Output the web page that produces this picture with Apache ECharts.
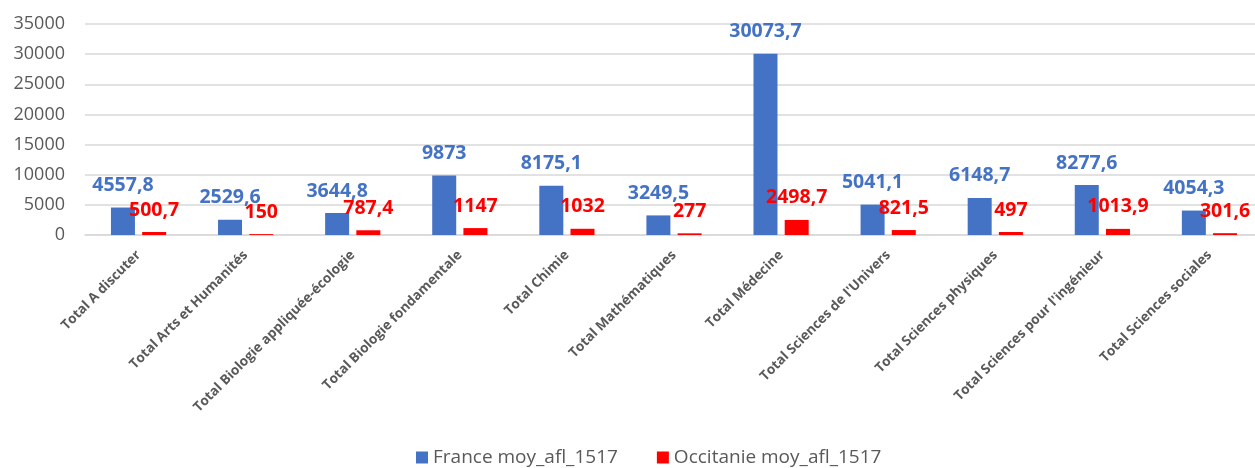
<!DOCTYPE html>
<html>
<head>
<meta charset="utf-8">
<script src="https://cdn.jsdelivr.net/npm/echarts@6/dist/echarts.min.js"></script>
<style>
  html, body { margin: 0; padding: 0; background: #fff; }
  #chart { width: 1255px; height: 468px; }
</style>
</head>
<body>
<div id="chart"></div>
<script>
const categories = [
  'Total A discuter',
  'Total Arts et Humanités',
  'Total Biologie appliquée-écologie',
  'Total Biologie fondamentale',
  'Total Chimie',
  'Total Mathématiques',
  'Total Médecine',
  "Total Sciences de l'Univers",
  'Total Sciences physiques',
  "Total Sciences pour l'ingénieur",
  'Total Sciences sociales'
];
const franceValues = [4557.8, 2529.6, 3644.8, 9873, 8175.1, 3249.5, 30073.7, 5041.1, 6148.7, 8277.6, 4054.3];
const occitanieValues = [500.7, 150, 787.4, 1147, 1032, 277, 2498.7, 821.5, 497, 1013.9, 301.6];
const seriesNames = ['France moy_afl_1517', 'Occitanie moy_afl_1517'];

const BLUE = '#4472C4';
const RED = '#FF0000';
const GREY = '#595959';
const FONT = 'Open Sans';

// french decimal comma
const frNum = (p) => String(p.value).replace('.', ',');

const barLabel = (color) => ({
  show: true,
  position: 'top',
  distance: 12,
  color: color,
  fontFamily: FONT,
  fontWeight: 'bold',
  fontSize: 19.5,
  formatter: frNum
});

const chart = echarts.init(document.getElementById('chart'), null, { renderer: 'canvas' });

chart.setOption({
  animation: false,
  grid: { left: 85, top: 24, right: -8, height: 211, outerBoundsMode: 'none', containLabel: false },
  legend: {
    bottom: -4,
    left: 411,
    itemWidth: 12,
    itemHeight: 12,
    itemGap: 39,
    icon: 'rect',
    textStyle: { color: GREY, fontFamily: FONT, fontSize: 19 },
    data: seriesNames
  },
  xAxis: {
    type: 'category',
    data: categories,
    axisLine: { lineStyle: { color: '#d9d9d9', width: 1.5 } },
    axisTick: { show: false },
    axisLabel: {
      interval: 0,
      rotate: 45,
      margin: 18,
      color: GREY,
      fontFamily: FONT,
      fontWeight: 'bold',
      fontSize: 13.5
    }
  },
  yAxis: {
    type: 'value',
    min: 0,
    max: 35000,
    interval: 5000,
    axisLine: { show: false },
    axisTick: { show: false },
    axisLabel: { margin: 20, color: GREY, fontFamily: FONT, fontSize: 18, formatter: (v) => String(v) },
    splitLine: { lineStyle: { color: '#d9d9d9', width: 1.5 } }
  },
  series: [
    {
      name: seriesNames[0],
      type: 'bar',
      data: franceValues,
      barWidth: 24,
      barGap: '30%',
      itemStyle: { color: BLUE },
      label: barLabel(BLUE)
    },
    {
      name: seriesNames[1],
      type: 'bar',
      data: occitanieValues,
      barWidth: 24,
      itemStyle: { color: RED },
      label: barLabel(RED)
    }
  ]
});
</script>
</body>
</html>
